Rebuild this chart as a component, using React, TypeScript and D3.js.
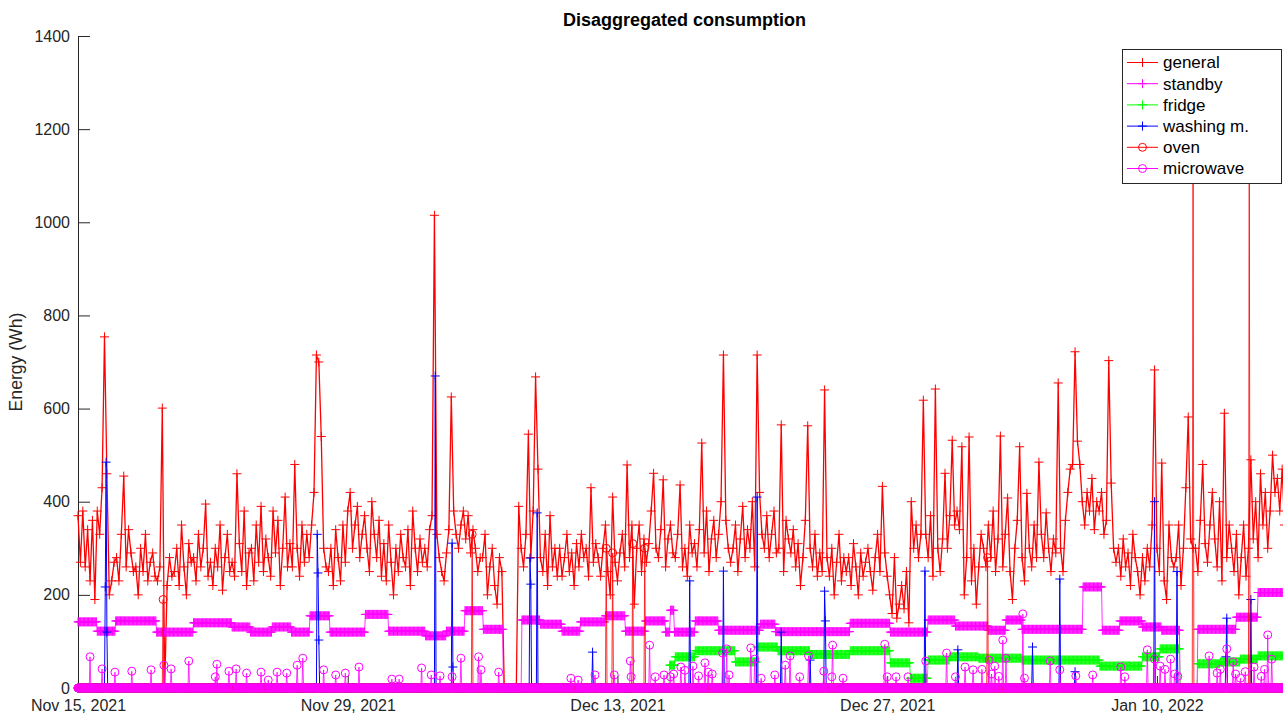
import React, { useEffect, useRef } from 'react';
import * as d3 from 'd3';

type Pt = { date: Date; value: number };

const startDate = new Date(2021, 10, 15, 0);
const endDate = new Date(2022, 0, 16, 23);
const totalHours = 63 * 24;

// general meter, one reading every 3 hours (8 a day), Wh
const general = [
  370, 270, 380, 260, 340, 230, 360, 190,
  380, 330, 430, 754, 460, 200, 230, 270,
  280, 230, 330, 455, 260, 340, 290, 250,
  260, 200, 300, 250, 330, 230, 270, 290,
  240, 230, 260, 601, 0, 220, 280, 240,
  250, 300, 220, 350, 260, 200, 310, 270,
  280, 230, 330, 260, 300, 395, 240, 270,
  220, 300, 260, 350, 210, 280, 330, 250,
  270, 240, 460, 310, 250, 380, 220, 290,
  300, 230, 350, 270, 390, 250, 320, 280,
  240, 380, 290, 360, 220, 300, 410, 260,
  310, 260, 480, 300, 240, 350, 270, 330,
  280, 350, 420, 715, 700, 540, 300, 260,
  250, 300, 220, 340, 280, 230, 350, 270,
  380, 420, 300, 350, 390, 280, 330, 370,
  300, 250, 400, 330, 280, 360, 240, 310,
  230, 350, 270, 200, 300, 250, 330, 280,
  260, 340, 220, 380, 300, 250, 320, 270,
  300, 260, 340, 370, 1015, 330, 280, 250,
  230, 290, 340, 625, 380, 330, 300, 350,
  380, 320, 370, 290, 340, 300, 250, 280,
  280, 330, 200, 260, 300, 220, 180, 280,
  250, 0, 0, 0, 0, 0, 0, 390,
  300, 260, 330, 545, 280, 380, 668, 470,
  280, 250, 330, 220, 370, 260, 300, 240,
  300, 240, 280, 330, 250, 290, 220, 310,
  260, 330, 280, 300, 240, 430, 270, 310,
  280, 240, 300, 350, 250, 200, 410, 270,
  230, 290, 330, 260, 479, 280, 350, 180,
  300, 350, 250, 320, 270, 310, 380, 461,
  300, 280, 340, 447, 260, 320, 350, 290,
  280, 330, 436, 260, 300, 240, 350, 290,
  310, 260, 340, 526, 290, 380, 250, 320,
  360, 280, 330, 400, 715, 360, 300, 270,
  300, 350, 250, 320, 390, 280, 340, 300,
  400, 260, 715, 420, 330, 300, 370, 280,
  330, 380, 290, 300, 565, 250, 360, 320,
  290, 340, 260, 310, 220, 280, 360, 563,
  300, 260, 330, 240, 290, 250, 640, 280,
  240, 300, 200, 270, 330, 230, 280, 250,
  280, 220, 310, 260, 200, 290, 240, 270,
  300, 250, 210, 280, 330, 250, 433, 290,
  240, 200, 160, 280, 150, 180, 220, 170,
  250, 140, 400, 300, 350, 280, 330, 618,
  330, 280, 370, 240, 642, 300, 250, 320,
  461, 300, 370, 532, 350, 380, 340, 518,
  200, 280, 539, 230, 300, 180, 260, 330,
  300, 260, 350, 280, 380, 250, 320, 541,
  260, 330, 408, 250, 190, 300, 360, 518,
  280, 230, 418, 300, 260, 350, 280, 485,
  330, 280, 376, 300, 250, 320, 290, 655,
  300, 250, 360, 420, 470, 480, 722, 530,
  480, 400, 350, 420, 380, 450, 340, 400,
  380, 420, 330, 360, 703, 440, 300, 270,
  300, 240, 320, 260, 290, 220, 330, 280,
  250, 200, 280, 230, 300, 260, 350, 683,
  300, 250, 483, 230, 190, 350, 280, 260,
  280, 350, 220, 300, 430, 582, 320, 300,
  300, 250, 360, 480, 310, 270, 350, 420,
  320, 260, 400, 230, 590, 280, 350, 300,
  250, 330, 200, 280, 350, 240, 300, 490,
  320, 400, 280, 460, 350, 420, 300, 380,
  500, 420, 450, 380, 470, 350, 430, 400,
];

// [from day, to day, Wh] counted from Nov 15
const standbySteps: [number, number, number][] = [
  [0, 0.99, 142], [0.99, 1.92, 122], [1.92, 4.05, 144], [4.05, 5.97, 120],
  [5.97, 7.99, 140], [7.99, 8.93, 131], [8.93, 10.07, 120], [10.07, 11.05, 131],
  [11.05, 12.04, 120], [12.04, 13.08, 155], [13.08, 14.89, 120], [14.89, 16.09, 158],
  [16.09, 18.01, 122], [18.01, 19.1, 112], [19.1, 20.08, 122], [20.08, 21.02, 166],
  [21.02, 22.06, 126], [23.04, 23.98, 146], [23.98, 25.12, 137], [25.12, 26.05, 122],
  [26.05, 27.35, 142], [27.35, 28.39, 155], [28.39, 29.42, 122], [29.42, 30.46, 144],
  [30.46, 30.75, 120], [30.75, 30.95, 167], [30.95, 32.02, 120], [32.02, 33.21, 144],
  [33.21, 35.39, 124], [35.39, 36.17, 137], [36.17, 40.06, 121], [40.06, 42.14, 139],
  [42.14, 44.11, 120], [44.11, 45.51, 146], [45.51, 47.22, 133], [47.22, 48.16, 124],
  [48.16, 48.99, 146], [48.99, 52.15, 126], [52.15, 53.14, 217], [53.14, 54.07, 124],
  [54.07, 55.21, 144], [55.21, 56.25, 131], [56.25, 57.19, 124], [58.12, 60.09, 126],
  [60.09, 61.23, 152], [61.23, 63, 205],
];

const fridgeSteps: [number, number, number][] = [
  [30.7, 31.0, 49], [31.0, 32.02, 67], [32.02, 34.09, 80], [34.09, 35.24, 56],
  [35.24, 36.33, 88], [36.33, 37.99, 80], [37.99, 40.06, 72], [40.06, 42.14, 80],
  [42.14, 43.18, 54], [43.18, 44.11, 21], [44.11, 45.25, 60], [45.25, 46.71, 67],
  [46.71, 48.99, 64], [48.99, 53.04, 60], [53.04, 55.21, 47], [55.21, 56.15, 67],
  [56.15, 57.19, 84], [58.12, 59.26, 52], [59.26, 60.3, 56], [60.3, 61.23, 62],
  [61.23, 63, 69],
];

// [day, Wh]
const washingEvents: [number, number][] = [
  [1.42, 217], [1.46, 485], [1.5, 120], [12.42, 330], [12.46, 247], [12.5, 103],
  [18.53, 670], [19.41, 311], [19.46, 45], [23.45, 279], [23.5, 223], [23.82, 376],
  [26.7, 77], [31.76, 230], [33.52, 251], [35.24, 410], [36.48, 120], [37.99, 60],
  [38.73, 208], [38.81, 144], [43.95, 251], [45.67, 82], [49.56, 88], [50.96, 234],
  [51.74, 35], [55.89, 400], [57.03, 250], [59.58, 67], [59.63, 150], [60.87, 190],
];

const ovenEvents: [number, number][] = [
  [4.42, 190], [20.45, 330], [27.4, 300], [27.76, 290], [28.8, 310], [29.4, 300],
  [47.2, 280], [57.86, 1250], [60.8, 1200],
];

const microwaveEvents: [number, number][] = [
  [0.62, 67], [1.25, 41], [1.92, 34], [2.8, 36], [3.79, 39], [4.46, 49], [4.83, 41],
  [5.76, 58], [7.11, 24], [7.21, 51], [7.84, 36], [8.2, 41], [8.77, 32], [9.5, 34],
  [9.86, 17], [10.33, 34], [10.85, 32], [11.36, 49], [11.68, 64], [12.77, 39],
  [13.39, 28], [13.86, 32], [14.58, 45], [16.29, 19], [16.66, 19], [17.85, 43],
  [18.32, 28], [18.79, 26], [19.41, 24], [19.88, 64], [20.81, 67], [20.91, 39],
  [21.85, 34], [25.58, 21], [25.95, 17], [26.83, 28], [27.82, 28], [28.65, 58],
  [28.7, 24], [29.68, 92], [29.94, 24], [30.41, 28], [30.77, 24], [30.9, 30],
  [31.3, 45], [31.5, 38], [31.92, 47], [32.2, 26], [32.54, 54], [32.69, 34],
  [32.9, 30], [33.47, 75], [33.68, 84], [33.78, 28], [34.93, 86], [35.13, 62],
  [35.44, 21], [36.17, 28], [36.69, 49], [36.95, 69], [37.47, 24], [37.93, 69],
  [38.71, 36], [39.13, 24], [39.18, 92], [39.7, 21], [41.88, 94], [41.98, 24],
  [42.45, 24], [43.07, 24], [44.01, 58], [45.1, 75], [45.56, 24], [46.03, 45],
  [46.45, 39], [46.9, 40], [47.28, 60], [47.4, 30], [47.59, 47], [47.8, 25],
  [48.0, 103], [48.16, 64], [49.04, 159], [49.14, 21], [50.44, 58], [50.96, 39],
  [51.79, 26], [52.67, 28], [54.13, 45], [54.33, 24], [55.48, 82], [55.89, 62],
  [56.15, 47], [56.4, 40], [56.72, 62], [56.9, 30], [57.1, 25], [58.69, 69],
  [59.11, 32], [59.3, 40], [59.63, 84], [59.94, 56], [60.1, 30], [60.35, 21],
  [60.6, 35], [61.03, 45], [61.4, 25], [61.6, 40], [61.75, 114], [61.96, 62],
];

const xTickDates = [
  new Date(2021, 10, 15), new Date(2021, 10, 29), new Date(2021, 11, 13),
  new Date(2021, 11, 27), new Date(2022, 0, 10),
];
const yTicks = [0, 200, 400, 600, 800, 1000, 1200, 1400];

const seriesNames = ['general', 'standby', 'fridge', 'washing m.', 'oven', 'microwave'];
const seriesColors = ['#ff0000', '#ff00ff', '#00ff00', '#0000ff', '#ff0000', '#ff00ff'];
const seriesMarkers = ['plus', 'plus', 'plus', 'plus', 'circle', 'circle'];

const hourly = (values: number[]): Pt[] =>
  values.map((v, h) => ({ date: d3.timeHour.offset(startDate, h), value: v }));

const fromSteps = (steps: [number, number, number][]) =>
  d3.range(totalHours).map(h => {
    const s = steps.find(s => h / 24 >= s[0] && h / 24 < s[1]);
    return s ? s[2] : 0;
  });

const fromEvents = (events: [number, number][]) => {
  const arr = new Array(totalHours).fill(0);
  events.forEach(([d, v]) => { arr[Math.round(d * 24)] = v; });
  return arr;
};

const App: React.FC = () => {
  const svgRef = useRef<SVGSVGElement | null>(null);

  useEffect(() => {
    const width = 1283;
    const height = 715;
    const left = 78, right = 1291, top = 36, bottom = 688;
    const font = '"Liberation Sans", Arial, Helvetica, sans-serif';
    const axisColor = '#262626';

    const svg = d3.select(svgRef.current)
      .attr('width', width)
      .attr('height', height);
    svg.selectAll('*').remove();

    const x = d3.scaleTime().domain([startDate, endDate]).range([left, right]);
    const y = d3.scaleLinear().domain([0, 1400]).range([bottom, top]);

    const generalPts: Pt[] = general.map((v, i) => ({
      date: d3.timeHour.offset(startDate, i * 3), value: v,
    }));
    const allSeries: Pt[][] = [
      generalPts,
      hourly(fromSteps(standbySteps)),
      hourly(fromSteps(fridgeSteps)),
      hourly(fromEvents(washingEvents)),
      hourly(fromEvents(ovenEvents)),
      hourly(fromEvents(microwaveEvents)),
    ];
    const lineWidths = [1.3, 0.8, 0.8, 1, 0.8, 0.8];

    const plusAt = (cx: number, cy: number) =>
      `M${cx - 4.5},${cy}h9M${cx},${cy - 4.5}v9`;
    const circleAt = (cx: number, cy: number) =>
      `M${cx + 4},${cy}a4,4 0 1,0 -8,0a4,4 0 1,0 8,0`;

    // axes (under the data, like matlab)
    const yAxis = svg.append('g')
      .attr('transform', `translate(${left},0)`)
      .call(d3.axisLeft(y).tickValues(yTicks).tickFormat(d3.format('d'))
        .tickSizeInner(-12).tickSizeOuter(0).tickPadding(8));
    const xAxis = svg.append('g')
      .attr('transform', `translate(0,${bottom})`)
      .call(d3.axisBottom(x).tickValues(xTickDates)
        .tickFormat(d => d3.timeFormat('%b %d, %Y')(d as Date))
        .tickSizeInner(-12).tickSizeOuter(0).tickPadding(12));
    [yAxis, xAxis].forEach(a => {
      a.attr('font-family', font).attr('font-size', 16);
      a.selectAll('line').attr('stroke', axisColor);
      a.select('.domain').attr('stroke', axisColor);
      a.selectAll('text').attr('fill', axisColor);
    });

    const line = d3.line<Pt>().x(p => x(p.date)).y(p => y(p.value));

    allSeries.forEach((pts, i) => {
      const g = svg.append('g');
      g.append('path')
        .attr('d', line(pts) as string)
        .attr('fill', 'none')
        .attr('stroke', seriesColors[i])
        .attr('stroke-width', lineWidths[i]);
      const mk = seriesMarkers[i] === 'plus' ? plusAt : circleAt;
      g.append('path')
        .attr('d', pts.map(p => mk(x(p.date), y(p.value))).join(''))
        .attr('fill', 'none')
        .attr('stroke', seriesColors[i])
        .attr('stroke-width', 1);
    });

    // legend
    const lg = svg.append('g').attr('font-family', font).attr('font-size', 17);
    lg.append('rect')
      .attr('x', 1122.5).attr('y', 49.5).attr('width', 159).attr('height', 134)
      .attr('fill', '#fff').attr('stroke', axisColor).attr('stroke-width', 1);
    seriesNames.forEach((name, i) => {
      const ry = 62.5 + i * 21.2;
      lg.append('line')
        .attr('x1', 1127).attr('x2', 1158).attr('y1', ry).attr('y2', ry)
        .attr('stroke', seriesColors[i]).attr('stroke-width', 1);
      lg.append('path')
        .attr('d', (seriesMarkers[i] === 'plus' ? plusAt : circleAt)(1142.5, ry))
        .attr('fill', 'none').attr('stroke', seriesColors[i]);
      lg.append('text')
        .attr('x', 1163).attr('y', ry).attr('dy', '0.35em')
        .attr('fill', '#000').text(name);
    });

    svg.append('text')
      .attr('x', (left + right) / 2).attr('y', 26)
      .attr('text-anchor', 'middle')
      .attr('font-family', font).attr('font-size', 18).attr('font-weight', 'bold')
      .attr('fill', '#000')
      .text('Disaggregated consumption');

    svg.append('text')
      .attr('transform', `translate(22,362) rotate(-90)`)
      .attr('text-anchor', 'middle')
      .attr('font-family', font).attr('font-size', 17.6)
      .attr('fill', axisColor)
      .text('Energy (Wh)');
  }, []);

  return (
    <svg
      ref={svgRef}
      style={{ position: 'absolute', left: 0, top: 0, background: '#fff', display: 'block' }}
    />
  );
};

export default App;
